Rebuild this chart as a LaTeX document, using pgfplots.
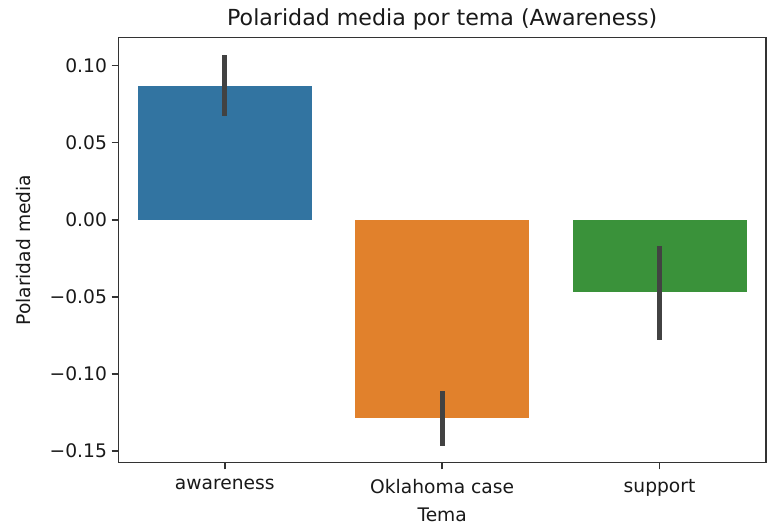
\documentclass[border=0pt]{standalone}
\usepackage{pgfplots}
\pgfplotsset{compat=1.18}
\usepackage{fontspec}
\setmainfont{DejaVu Sans}
\definecolor{cblue}{HTML}{3274A1}
\definecolor{corange}{HTML}{E1812C}
\definecolor{cgreen}{HTML}{3A923A}
\definecolor{cerr}{HTML}{424242}
\begin{document}
\begin{tikzpicture}
\begin{axis}[
  at={(0,0)}, anchor=south west,
  scale only axis,
  width=485.8pt, height=318.75pt,
  xmin=-0.49, xmax=2.49,
  ymin=-0.1575, ymax=0.1181,
  xtick={0,1,2},
  xticklabels={awareness,Oklahoma case,support},
  ytick={-0.15,-0.10,-0.05,0,0.05,0.10},
  yticklabels={−0.15,−0.10,−0.05,0.00,0.05,0.10},
  tick align=outside,
  tick pos=left,
  major tick length=5pt,
  every tick/.style={black!80, line width=1.1pt},
  axis line style={black!80, line width=1.1pt},
  tick label style={font=\fontsize{14}{16}\selectfont, black!90},
  xticklabel style={yshift=-4pt},
  yticklabel style={xshift=0pt},
  title={Polaridad media por tema (Awareness)},
  title style={font=\fontsize{16.6}{20}\selectfont, black!90, yshift=-4pt},
  xlabel={Tema},
  ylabel={Polaridad media},
  label style={font=\fontsize{14}{16}\selectfont, black!90},
  xlabel style={yshift=-2pt},
  ylabel style={yshift=7.5pt},
  ybar, bar width=0.8, bar shift=0pt,
  error bars/y dir=both, error bars/y explicit,
  error bars/error mark=none,
  error bars/error bar style={line width=3.85pt, cerr},
]
\addplot[fill=cblue, draw=none] coordinates {(0,0.0870) += (0,0.0199) -= (0,0.0197)};
\addplot[fill=corange, draw=none] coordinates {(1,-0.1283) += (0,0.0173) -= (0,0.0184)};
\addplot[fill=cgreen, draw=none] coordinates {(2,-0.0468) += (0,0.0298) -= (0,0.0312)};
\end{axis}
\pgfresetboundingbox
\path (-88.7pt,-47.5pt) rectangle (486.5pt,347pt);
\end{tikzpicture}
\end{document}
